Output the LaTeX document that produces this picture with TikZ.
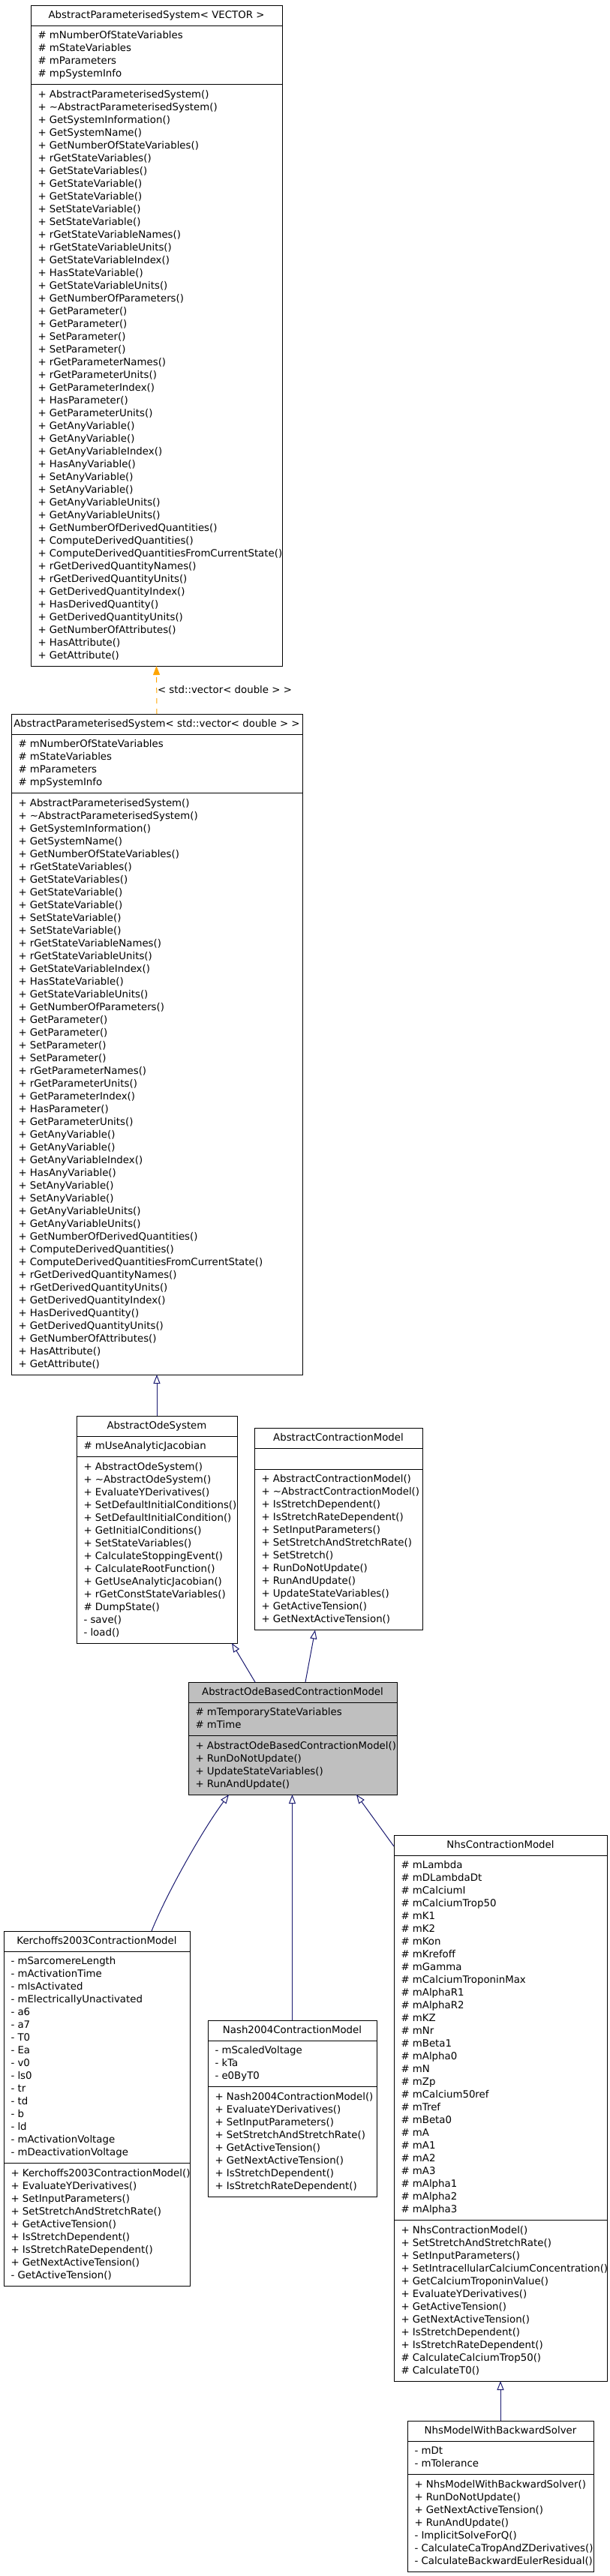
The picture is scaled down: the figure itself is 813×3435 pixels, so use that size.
\documentclass[tikz,border=0pt]{standalone}
\usepackage{fontspec}
\setmainfont{DejaVu Sans}
\usetikzlibrary{arrows.meta,calc}
\definecolor{edgeblue}{HTML}{191970}
\definecolor{tmplorange}{HTML}{FFA500}
\definecolor{selgrey}{HTML}{BFBFBF}
\tikzset{
  classbox/.style={draw=black, line width=1pt, inner sep=0pt, outer sep=0pt, anchor=north west},
  divider/.style={draw=black, line width=1pt},
  txt/.style={inner sep=0pt, outer sep=0pt, font=\fontsize{13.33pt}{17pt}\selectfont},
  gen/.style={draw=edgeblue, line width=1pt, -{Triangle[open, length=12pt, width=9pt]}},
  tmpl/.style={draw=tmplorange, line width=1pt, dash pattern=on 7pt off 7pt, -{Triangle[length=12pt, width=9pt, fill=tmplorange]}},
}
\def\boxfill{white}
% #1 name, #2 left, #3 right, #4 top, #5 no. of attributes, #6 no. of methods, #7 header, #8 attributes, #9 methods
\newcommand\umlclass[9]{%
  \pgfmathsetmacro\hA{(#5==0) ? 28 : #5*17+10.5}%
  \pgfmathsetmacro\hM{#6*17+10.5}%
  \pgfmathsetmacro\yA{#4+27}%
  \pgfmathsetmacro\yM{\yA+\hA}%
  \pgfmathsetmacro\bH{27+\hA+\hM}%
  \pgfmathsetmacro\bW{#3-#2}%
  \pgfmathsetmacro\xc{(#2+#3)/2}%
  \pgfmathsetmacro\xt{#2+9.5}%
  \node[classbox, fill=\boxfill, minimum width=\bW pt, minimum height=\bH pt] (#1) at (#2,#4) {};
  \draw[divider] (#2,\yA) -- (#3,\yA);
  \draw[divider] (#2,\yM) -- (#3,\yM);
  \node[txt, anchor=base] (#1-h) at (\xc,#4+17) {#7};
  \ifnum#5>0
    \foreach \t [count=\i from 0] in {#8} {\node[txt, anchor=base west] (#1-a\i) at (\xt,\yA+17.5+17*\i) {\t};}
  \fi
  \foreach \t [count=\i from 0] in {#9} {\node[txt, anchor=base west] (#1-m\i) at (\xt,\yM+17.5+17*\i) {\t};}
}
\begin{document}
\begin{tikzpicture}[x=1pt,y=-1pt]
\useasboundingbox (0,0) rectangle (813,3435);

\umlclass{b1}{41}{376}{7}{4}{45}{AbstractParameterisedSystem< VECTOR >}
{\# mNumberOfStateVariables, \# mStateVariables, \# mParameters, \# mpSystemInfo}
{+ AbstractParameterisedSystem(), + \textasciitilde AbstractParameterisedSystem(), + GetSystemInformation(), + GetSystemName(), + GetNumberOfStateVariables(), + rGetStateVariables(), + GetStateVariables(), + GetStateVariable(), + GetStateVariable(), + SetStateVariable(), + SetStateVariable(), + rGetStateVariableNames(), + rGetStateVariableUnits(), + GetStateVariableIndex(), + HasStateVariable(), + GetStateVariableUnits(), + GetNumberOfParameters(), + GetParameter(), + GetParameter(), + SetParameter(), + SetParameter(), + rGetParameterNames(), + rGetParameterUnits(), + GetParameterIndex(), + HasParameter(), + GetParameterUnits(), + GetAnyVariable(), + GetAnyVariable(), + GetAnyVariableIndex(), + HasAnyVariable(), + SetAnyVariable(), + SetAnyVariable(), + GetAnyVariableUnits(), + GetAnyVariableUnits(), + GetNumberOfDerivedQuantities(), + ComputeDerivedQuantities(), + ComputeDerivedQuantitiesFromCurrentState(), + rGetDerivedQuantityNames(), + rGetDerivedQuantityUnits(), + GetDerivedQuantityIndex(), + HasDerivedQuantity(), + GetDerivedQuantityUnits(), + GetNumberOfAttributes(), + HasAttribute(), + GetAttribute()}

\umlclass{b2}{15}{403}{952}{4}{45}{AbstractParameterisedSystem< std::vector< double > >}
{\# mNumberOfStateVariables, \# mStateVariables, \# mParameters, \# mpSystemInfo}
{+ AbstractParameterisedSystem(), + \textasciitilde AbstractParameterisedSystem(), + GetSystemInformation(), + GetSystemName(), + GetNumberOfStateVariables(), + rGetStateVariables(), + GetStateVariables(), + GetStateVariable(), + GetStateVariable(), + SetStateVariable(), + SetStateVariable(), + rGetStateVariableNames(), + rGetStateVariableUnits(), + GetStateVariableIndex(), + HasStateVariable(), + GetStateVariableUnits(), + GetNumberOfParameters(), + GetParameter(), + GetParameter(), + SetParameter(), + SetParameter(), + rGetParameterNames(), + rGetParameterUnits(), + GetParameterIndex(), + HasParameter(), + GetParameterUnits(), + GetAnyVariable(), + GetAnyVariable(), + GetAnyVariableIndex(), + HasAnyVariable(), + SetAnyVariable(), + SetAnyVariable(), + GetAnyVariableUnits(), + GetAnyVariableUnits(), + GetNumberOfDerivedQuantities(), + ComputeDerivedQuantities(), + ComputeDerivedQuantitiesFromCurrentState(), + rGetDerivedQuantityNames(), + rGetDerivedQuantityUnits(), + GetDerivedQuantityIndex(), + HasDerivedQuantity(), + GetDerivedQuantityUnits(), + GetNumberOfAttributes(), + HasAttribute(), + GetAttribute()}

\umlclass{aos}{102}{316}{1888}{1}{14}{AbstractOdeSystem}
{\# mUseAnalyticJacobian}
{+ AbstractOdeSystem(), + \textasciitilde AbstractOdeSystem(), + EvaluateYDerivatives(), + SetDefaultInitialConditions(), + SetDefaultInitialCondition(), + GetInitialConditions(), + SetStateVariables(), + CalculateStoppingEvent(), + CalculateRootFunction(), + GetUseAnalyticJacobian(), + rGetConstStateVariables(), \# DumpState(), - save(), - load()}

\umlclass{acm}{339}{563}{1904}{0}{12}{AbstractContractionModel}
{}
{+ AbstractContractionModel(), + \textasciitilde AbstractContractionModel(), + IsStretchDependent(), + IsStretchRateDependent(), + SetInputParameters(), + SetStretchAndStretchRate(), + SetStretch(), + RunDoNotUpdate(), + RunAndUpdate(), + UpdateStateVariables(), + GetActiveTension(), + GetNextActiveTension()}

\def\boxfill{selgrey}
\umlclass{aobcm}{251}{529}{2243}{2}{4}{AbstractOdeBasedContractionModel}
{\# mTemporaryStateVariables, \# mTime}
{+ AbstractOdeBasedContractionModel(), + RunDoNotUpdate(), + UpdateStateVariables(), + RunAndUpdate()}
\def\boxfill{white}

\umlclass{kerch}{5}{253}{2575}{16}{9}{Kerchoffs2003ContractionModel}
{- mSarcomereLength, - mActivationTime, - mIsActivated, - mElectricallyUnactivated, - a6, - a7, - T0, - Ea, - v0, - ls0, - tr, - td, - b, - ld, - mActivationVoltage, - mDeactivationVoltage}
{+ Kerchoffs2003ContractionModel(), + EvaluateYDerivatives(), + SetInputParameters(), + SetStretchAndStretchRate(), + GetActiveTension(), + IsStretchDependent(), + IsStretchRateDependent(), + GetNextActiveTension(), - GetActiveTension()}

\umlclass{nash}{277}{502}{2694}{3}{8}{Nash2004ContractionModel}
{- mScaledVoltage, - kTa, - e0ByT0}
{+ Nash2004ContractionModel(), + EvaluateYDerivatives(), + SetInputParameters(), + SetStretchAndStretchRate(), + GetActiveTension(), + GetNextActiveTension(), + IsStretchDependent(), + IsStretchRateDependent()}

\umlclass{nhs}{525}{809}{2447}{28}{12}{NhsContractionModel}
{\# mLambda, \# mDLambdaDt, \# mCalciumI, \# mCalciumTrop50, \# mK1, \# mK2, \# mKon, \# mKrefoff, \# mGamma, \# mCalciumTroponinMax, \# mAlphaR1, \# mAlphaR2, \# mKZ, \# mNr, \# mBeta1, \# mAlpha0, \# mN, \# mZp, \# mCalcium50ref, \# mTref, \# mBeta0, \# mA, \# mA1, \# mA2, \# mA3, \# mAlpha1, \# mAlpha2, \# mAlpha3}
{+ NhsContractionModel(), + SetStretchAndStretchRate(), + SetInputParameters(), + SetIntracellularCalciumConcentration(), + GetCalciumTroponinValue(), + EvaluateYDerivatives(), + GetActiveTension(), + GetNextActiveTension(), + IsStretchDependent(), + IsStretchRateDependent(), \# CalculateCalciumTrop50(), \# CalculateT0()}

\umlclass{nmwbs}{543}{791}{3228}{2}{7}{NhsModelWithBackwardSolver}
{- mDt, - mTolerance}
{+ NhsModelWithBackwardSolver(), + RunDoNotUpdate(), + GetNextActiveTension(), + RunAndUpdate(), - ImplicitSolveForQ(), - CalculateCaTropAndZDerivatives(), - CalculateBackwardEulerResidual()}

% template instantiation
\draw[tmpl] (b2.north) -- (b1.south);
\node[txt, anchor=base west] (tlabel) at (210,924) {< std::vector< double > >};

% generalisations
\draw[gen] (aos.north) -- (b2.south -| aos.north);
\draw[gen] ($(aobcm.north west)+(89,0)$) -- ($(aos.south west)+(207,0)$);
\draw[gen] ($(aobcm.north west)+(156,0)$) -- ($(acm.south west)+(81,0)$);
\draw[gen] ($(kerch.north west)+(197,0)$) .. controls (222,2525) and (270,2440) .. ($(aobcm.south west)+(54,0)$);
\draw[gen] (nash.north) -- (nash.north |- aobcm.south);
\draw[gen] ($(nhs.north west)+(0,15)$) -- ($(aobcm.south west)+(224,0)$);
\draw[gen] (nmwbs.north) -- (nmwbs.north |- nhs.south);
\end{tikzpicture}
\end{document}
